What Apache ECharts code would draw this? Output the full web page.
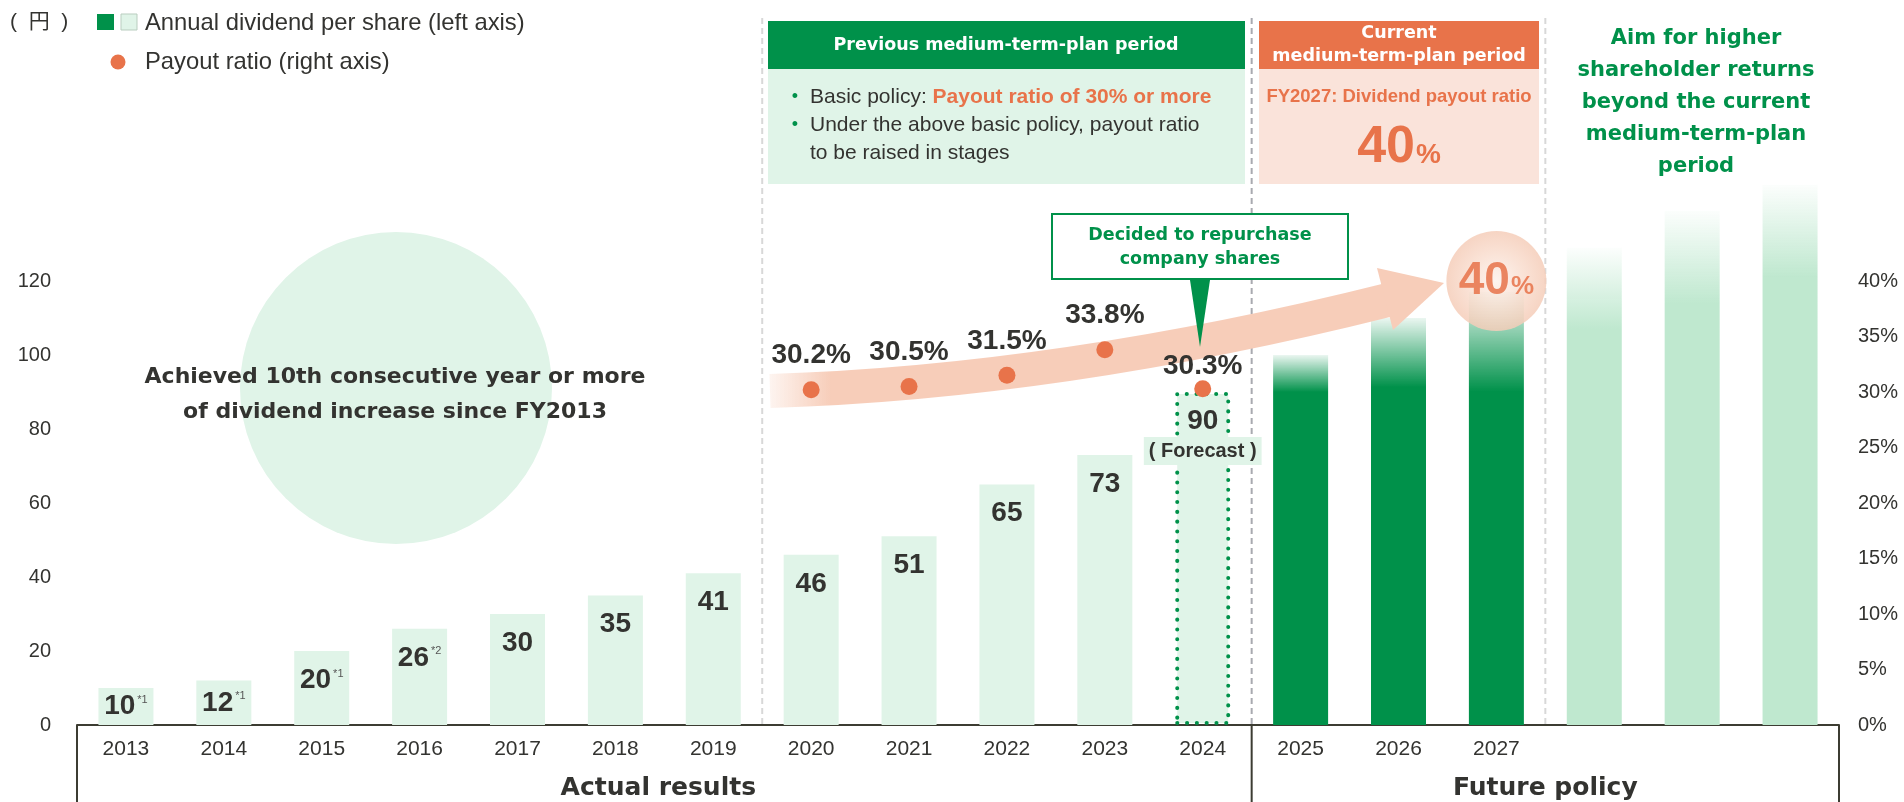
<!DOCTYPE html>
<html>
  <head>
    <meta charset="utf-8" />
    <title>Annual dividend per share and payout ratio</title>
    <script src="https://cdn.jsdelivr.net/npm/echarts@6/dist/echarts.min.js"></script>
    <style>
      html,
      body {
        margin: 0;
        padding: 0;
        background: #fff;
      }
      #main {
        width: 1904px;
        height: 802px;
      }
    </style>
  </head>
  <body>
    <div id="main"></div>
    <script type="text/javascript">
      // ---- data ----
      var years = ["2013", "2014", "2015", "2016", "2017", "2018", "2019", "2020", "2021",
        "2022", "2023", "2024", "2025", "2026", "2027", "", "", ""];
      // annual dividend per share, actual results (2024 = forecast)
      var actual = [10, 12, 20, 26, 30, 35, 41, 46, 51, 65, 73, 90,
        null, null, null, null, null, null];
      var notes = ["*1", "*1", "*1", "*2", "", "", "", "", "", "", "", "", "", "", "", "", "", ""];
      var forecastYear = "2024";
      // current medium-term plan (2025-2027)
      var plan = [null, null, null, null, null, null, null, null, null, null, null, null,
        100, 110, 117, null, null, null];
      // beyond the current plan
      var beyond = [null, null, null, null, null, null, null, null, null, null, null, null,
        null, null, null, 129, 139, 146];
      // payout ratio (%)
      var payout = [null, null, null, null, null, null, null, 30.2, 30.5, 31.5, 33.8, 30.3,
        null, null, null, null, null, null];
      var target = [null, null, null, null, null, null, null, null, null, null, null, null,
        null, null, 40, null, null, null];
      var leftTicks = [0, 20, 40, 60, 80, 100, 120];
      var rightTicks = [0, 5, 10, 15, 20, 25, 30, 35, 40];

      // ---- style ----
      var FONT = "'Liberation Sans', Arial, Helvetica, sans-serif";
      var WIDE = "'DejaVu Sans', 'Liberation Sans', sans-serif";
      var CJK = "'Liberation Sans', 'Noto Sans CJK JP', sans-serif";
      var DARK = "#333330";
      var GREEN = "#00914a";
      var LIGHT = "#e0f4e8";
      var MINT = "#bfe8cf";
      var ORANGE = "#e8734a";
      var PEACH = "#f7cdb9";
      var planFade = [0.1, 0.17, 0.23];
      var beyondFade = [0.17, 0.18, 0.17];

      var GL = 77, GR = 65, GT = 59, GB = 77;
      var W = 1904, H = 802;
      var band = (W - GL - GR) / years.length;
      var axisY = H - GB;
      function bx(i) {
        return GL + band * i;
      }

      var chart = echarts.init(document.getElementById("main"));

      var fIdx = years.indexOf(forecastYear);
      var actualData = actual.map(function (v, i) {
        if (v == null) return "-";
        var item = { value: v };
        if (v < 15) item.label = { position: "inside" };
        if (i === fIdx) {
          item.itemStyle = {
            borderColor: GREEN,
            borderWidth: 4,
            borderType: [0.1, 9.7],
            borderCap: "round",
          };
        }
        return item;
      });

      var k = 0;
      var planData = plan.map(function (v) {
        if (v == null) return "-";
        var f = planFade[k++];
        return {
          value: v,
          itemStyle: {
            color: new echarts.graphic.LinearGradient(0, 0, 0, 1, [
              { offset: 0, color: "rgba(0,145,74,0.08)" },
              { offset: f, color: GREEN },
              { offset: 1, color: GREEN },
            ]),
          },
        };
      });

      k = 0;
      var beyondData = beyond.map(function (v) {
        if (v == null) return "-";
        var f = beyondFade[k++];
        return {
          value: v,
          itemStyle: {
            color: new echarts.graphic.LinearGradient(0, 0, 0, 1, [
              { offset: 0, color: "rgba(191,232,207,0.05)" },
              { offset: f, color: MINT },
              { offset: 1, color: MINT },
            ]),
          },
        };
      });

      var payoutData = payout.map(function (v, i) {
        if (v == null) return "-";
        return { value: v, label: { distance: i === fIdx ? 0 : 12 } };
      });

      function vline(x, y1, y2, color, dash, width, z) {
        return {
          type: "line",
          silent: true,
          z: z || 1,
          shape: { x1: x, y1: y1, x2: x, y2: y2 },
          style: { stroke: color, lineWidth: width || 1.5, lineDash: dash || null },
        };
      }
      function txt(x, y, text, size, weight, color, family, extra) {
        var s = {
          text: text,
          fontSize: size,
          fontWeight: weight,
          fill: color,
          fontFamily: family || FONT,
          align: "center",
          verticalAlign: "middle",
        };
        for (var key in extra || {}) s[key] = extra[key];
        return { type: "text", x: x, y: y, z: 6, silent: true, style: s };
      }

      var graphics = [
        // period separators
        vline(bx(7), 18, axisY, "#d8d8d8", [6, 4], 2),
        vline(bx(12), 18, axisY, "#a9aab0", [6, 4], 2),
        vline(bx(15), 18, axisY, "#d8d8d8", [6, 4], 2),
        vline(bx(0), axisY, H, "#3c3c32", null, 2),
        vline(bx(12), axisY, H, "#3c3c32", null, 2),
        vline(bx(18), axisY, H, "#3c3c32", null, 2),
        txt((bx(0) + bx(12)) / 2 - 6, 788, "Actual results", 25, "bold", DARK, WIDE),
        txt((bx(12) + bx(18)) / 2, 788, "Future policy", 25, "bold", DARK, WIDE),

        // legend
        txt(10, 22, "(  円  )", 21, "normal", DARK, CJK, { align: "left" }),
        { type: "rect", z: 6, shape: { x: 97, y: 14, width: 17, height: 16 }, style: { fill: GREEN } },
        {
          type: "rect", z: 6, shape: { x: 121, y: 14, width: 16, height: 16 },
          style: { fill: LIGHT, stroke: "#b9cdbf", lineWidth: 1 },
        },
        txt(145, 23, "Annual dividend per share (left axis)", 23.8, "normal", DARK, FONT, { align: "left" }),
        { type: "circle", z: 6, shape: { cx: 118, cy: 62, r: 7.5 }, style: { fill: ORANGE } },
        txt(145, 62, "Payout ratio (right axis)", 23.8, "normal", DARK, FONT, { align: "left" }),

        // achievement bubble
        { type: "circle", z: 0, silent: true, shape: { cx: 396, cy: 388, r: 156 }, style: { fill: LIGHT } },
        txt(395, 395, "Achieved 10th consecutive year or more\nof dividend increase since FY2013",
          22, "bold", DARK, WIDE, { lineHeight: 35 }),

        // previous plan box
        { type: "rect", z: 5, shape: { x: 768, y: 21, width: 477, height: 48 }, style: { fill: GREEN } },
        { type: "rect", z: 5, shape: { x: 768, y: 69, width: 477, height: 115 }, style: { fill: LIGHT } },
        txt(1006, 45, "Previous medium-term-plan period", 17.5, "bold", "#fff", WIDE),
        txt(795, 97, "•", 18, "normal", GREEN, FONT),
        txt(795, 125, "•", 18, "normal", GREEN, FONT),
        {
          type: "text", x: 810, y: 97, z: 6, silent: true,
          style: {
            text: "{n|Basic policy: }{b|Payout ratio of 30% or more}",
            verticalAlign: "middle",
            align: "left",
            rich: {
              n: { fontSize: 21, fontFamily: FONT, fill: DARK, color: DARK },
              b: { fontSize: 21, fontFamily: FONT, fontWeight: "bold", fill: ORANGE, color: ORANGE },
            },
          },
        },
        txt(810, 139, "Under the above basic policy, payout ratio\nto be raised in stages",
          21, "normal", DARK, FONT, { align: "left", lineHeight: 28 }),

        // current plan box
        { type: "rect", z: 5, shape: { x: 1259, y: 21, width: 280, height: 48 }, style: { fill: ORANGE } },
        { type: "rect", z: 5, shape: { x: 1259, y: 69, width: 280, height: 115 }, style: { fill: "#fae3da" } },
        txt(1399, 45, "Current\nmedium-term-plan period", 17.5, "bold", "#fff", WIDE, { lineHeight: 23 }),
        txt(1399, 97, "FY2027: Dividend payout ratio", 18.5, "bold", ORANGE, FONT),
        {
          type: "text", x: 1399, y: 148, z: 6, silent: true,
          style: {
            text: "{a|40}{b|%}",
            align: "center",
            verticalAlign: "middle",
            rich: {
              a: { fontSize: 52, fontWeight: "bold", fontFamily: FONT, fill: ORANGE, color: ORANGE, verticalAlign: "bottom" },
              b: { fontSize: 28, fontWeight: "bold", fontFamily: FONT, fill: ORANGE, color: ORANGE, verticalAlign: "bottom", padding: [0, 0, 5, 1] },
            },
          },
        },

        // beyond
        txt(1696, 103, "Aim for higher\nshareholder returns\nbeyond the current\nmedium-term-plan\nperiod",
          21, "bold", GREEN, WIDE, { lineHeight: 32 }),

        // payout ratio arrow
        {
          type: "bezierCurve", z: 3, silent: true,
          shape: { x1: 770, y1: 391, cpx1: 1061, cpy1: 382, x2: 1388, y2: 300 },
          style: {
            fill: null,
            lineWidth: 34,
            stroke: new echarts.graphic.LinearGradient(0, 0, 1, 0, [
              { offset: 0, color: "rgba(247,205,185,0)" },
              { offset: 0.12, color: PEACH },
              { offset: 1, color: PEACH },
            ]),
          },
        },
        {
          type: "polygon", z: 3, silent: true,
          shape: { points: [[1377, 268], [1444, 283], [1393, 330]] },
          style: { fill: PEACH },
        },

        // share repurchase callout
        {
          type: "rect", z: 5, shape: { x: 1052, y: 214, width: 296, height: 65 },
          style: { fill: "#fff", stroke: GREEN, lineWidth: 2 },
        },
        {
          type: "polygon", z: 5, shape: { points: [[1190, 280], [1210, 280], [1200, 347]] },
          style: { fill: GREEN },
        },
        txt(1200, 247, "Decided to repurchase\ncompany shares", 17.5, "bold", GREEN, WIDE, { lineHeight: 24 }),
      ];

      var option = {
        animation: false,
        grid: { left: GL, right: GR, top: GT, bottom: GB, containLabel: false },
        xAxis: {
          type: "category",
          data: years,
          axisLine: { show: true, lineStyle: { color: "#3c3c32", width: 2 } },
          axisTick: { show: false },
          splitLine: { show: false },
          axisLabel: { fontSize: 21, color: DARK, fontFamily: FONT, margin: 14 },
        },
        yAxis: [
          {
            type: "value",
            min: 0,
            max: 180,
            interval: 20,
            axisLine: { show: false },
            axisTick: { show: false },
            splitLine: { show: false },
            axisLabel: {
              fontSize: 20,
              color: DARK,
              fontFamily: FONT,
              margin: 26,
              formatter: function (v) {
                return leftTicks.indexOf(v) >= 0 ? String(v) : "";
              },
            },
          },
          {
            type: "value",
            min: 0,
            max: 60,
            interval: 5,
            position: "right",
            axisLine: { show: false },
            axisTick: { show: false },
            splitLine: { show: false },
            axisLabel: {
              fontSize: 20,
              color: DARK,
              fontFamily: FONT,
              margin: 19,
              formatter: function (v) {
                return rightTicks.indexOf(v) >= 0 ? v + "%" : "";
              },
            },
          },
        ],
        series: [
          {
            name: "Annual dividend per share",
            type: "bar",
            data: actualData,
            barWidth: 55,
            barGap: "-100%",
            z: 2,
            itemStyle: { color: LIGHT },
            label: {
              show: true,
              position: "insideTop",
              distance: 13,
              formatter: function (p) {
                var i = p.dataIndex;
                var s = "{v|" + actual[i] + "}";
                if (notes[i]) s += "{s|" + notes[i] + "}";
                if (i === fIdx) s += "\n{f|( Forecast )}";
                return s;
              },
              rich: {
                v: { fontSize: 28, fontWeight: "bold", color: DARK, fontFamily: FONT, lineHeight: 32 },
                s: { fontSize: 11, color: "#555", fontFamily: FONT, verticalAlign: "top", padding: [4, 0, 0, 2] },
                f: {
                  fontSize: 20, fontWeight: "bold", color: DARK, fontFamily: FONT,
                  backgroundColor: LIGHT, padding: [4, 5], lineHeight: 28,
                },
              },
            },
          },
          {
            name: "Current plan",
            type: "bar",
            data: planData,
            barWidth: 55,
            barGap: "-100%",
            z: 2,
          },
          {
            name: "Beyond",
            type: "bar",
            data: beyondData,
            barWidth: 55,
            barGap: "-100%",
            z: 2,
          },
          {
            name: "Payout ratio",
            type: "scatter",
            yAxisIndex: 1,
            data: payoutData,
            symbolSize: 17,
            z: 8,
            itemStyle: { color: ORANGE, opacity: 1 },
            label: {
              show: true,
              position: "top",
              formatter: "{c}%",
              fontSize: 28,
              fontWeight: "bold",
              color: DARK,
              fontFamily: FONT,
            },
          },
          {
            name: "Target",
            type: "scatter",
            yAxisIndex: 1,
            data: target.map(function (v) {
              return v == null ? "-" : v;
            }),
            symbolSize: 100,
            z: 4,
            itemStyle: {
              opacity: 0.85,
              color: new echarts.graphic.RadialGradient(0.5, 0.5, 0.5, [
                { offset: 0, color: "#fdf2ec" },
                { offset: 0.6, color: "#f9dccd" },
                { offset: 1, color: "#f5cdb9" },
              ]),
            },
            label: {
              show: true,
              position: "inside",
              formatter: function (p) {
                return "{a|" + p.value + "}{b|%}";
              },
              rich: {
                a: { fontSize: 46, fontWeight: "bold", color: ORANGE, fontFamily: FONT, verticalAlign: "bottom" },
                b: { fontSize: 26, fontWeight: "bold", color: ORANGE, fontFamily: FONT, verticalAlign: "bottom", padding: [0, 0, 4, 1] },
              },
            },
          },
        ],
        graphic: graphics,
      };

      chart.setOption(option);
    </script>
  </body>
</html>
